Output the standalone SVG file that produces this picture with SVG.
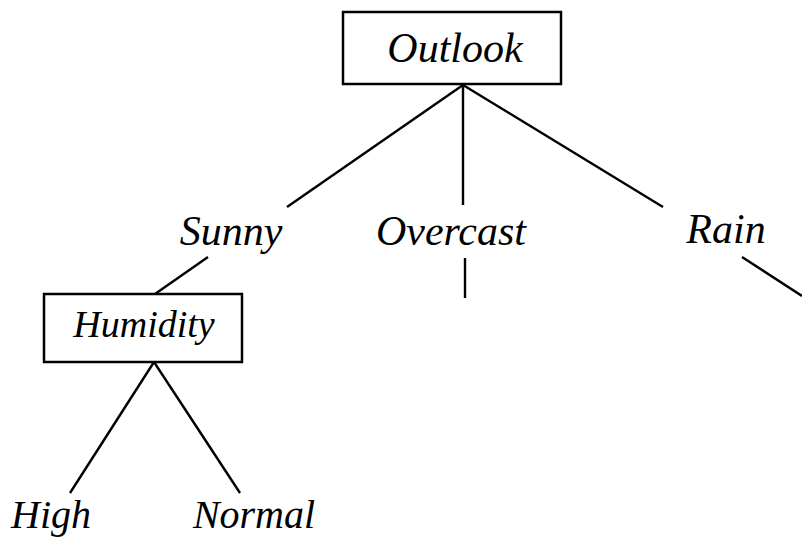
<svg xmlns="http://www.w3.org/2000/svg" width="802" height="537" viewBox="0 0 802 537">
  <style>
    .box { fill: #fff; stroke: #000; stroke-width: 2.5; }
    .lbl { font-family: "Liberation Serif", "Times New Roman", serif; font-style: italic; font-size: 42px; fill: #000; }
    .leaf { font-size: 40px; }
    .edge { stroke: #000; stroke-width: 2.4; fill: none; stroke-linecap: butt; }
  </style>
  <rect width="802" height="537" fill="#fff"/>

  <!-- tree edges -->
  <g id="connectors">
    <line class="edge" x1="463" y1="85" x2="287" y2="207"/>
    <line class="edge" x1="463" y1="85" x2="463" y2="205"/>
    <line class="edge" x1="463" y1="85" x2="663" y2="207"/>
    <line class="edge" x1="208" y1="257" x2="155" y2="294"/>
    <line class="edge" x1="465" y1="258" x2="465" y2="298"/>
    <line class="edge" x1="742" y1="257" x2="802" y2="296"/>
    <line class="edge" x1="154" y1="362" x2="70" y2="493"/>
    <line class="edge" x1="154" y1="362" x2="240" y2="493"/>
  </g>

  <g id="outlook">
    <rect class="box" x="343" y="12" width="218" height="72"/>
    <text class="lbl" x="455" y="62" text-anchor="middle">Outlook</text>
  </g>

  <g id="sunny">
    <text class="lbl" x="231" y="245" text-anchor="middle">Sunny</text>
  </g>

  <g id="overcast">
    <text class="lbl" x="451" y="245" text-anchor="middle">Overcast</text>
  </g>

  <g id="rain">
    <text class="lbl" x="726" y="243" text-anchor="middle">Rain</text>
  </g>

  <g id="humidity">
    <rect class="box" x="44" y="294" width="198" height="68"/>
    <text class="lbl" x="144" y="337" text-anchor="middle" style="font-size:38px">Humidity</text>
  </g>

  <g id="high">
    <text class="lbl leaf" x="51" y="528" text-anchor="middle">High</text>
  </g>

  <g id="normal">
    <text class="lbl leaf" x="254" y="528" text-anchor="middle">Normal</text>
  </g>
</svg>
